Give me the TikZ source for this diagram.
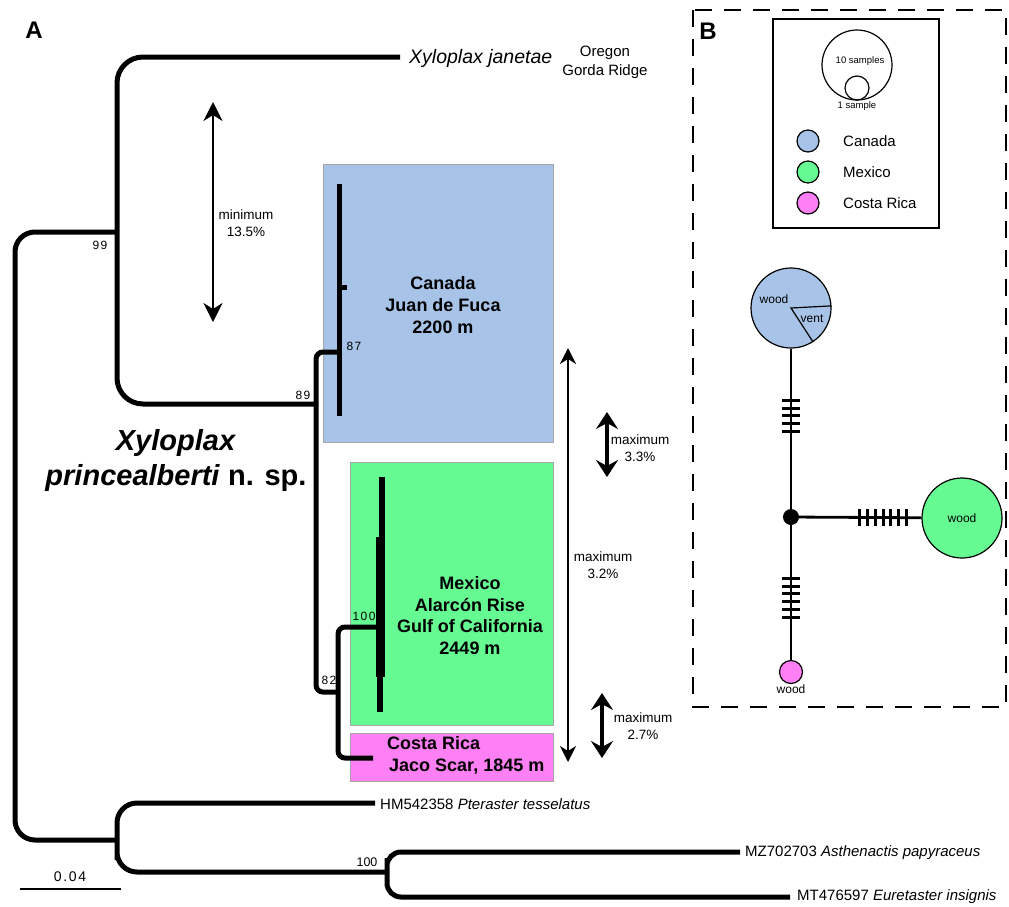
\documentclass[tikz,border=0pt]{standalone}
\usepackage{fontspec}
\setmainfont{Liberation Sans}
\newfontfamily\numfont[LetterSpace=12]{Liberation Sans}
\usetikzlibrary{arrows.meta,calc}
\definecolor{canada}{RGB}{167,196,232}
\definecolor{mexico}{RGB}{102,250,146}
\definecolor{costa}{RGB}{255,128,245}
\newcommand\myfs[2]{\fontsize{#1}{#2}\selectfont}
\begin{document}
\begin{tikzpicture}[x=1pt,y=-1pt,
  tree/.style={line width=5pt, rounded corners=#1},
  tree/.default=20pt,
  regionbox/.style={draw=black!35, line width=0.6pt},
  bigarrow/.style={line width=2pt, {Stealth[length=16pt,width=16pt,inset=5pt]}-{Stealth[length=16pt,width=16pt,inset=5pt]}},
  minarrow/.style={line width=2pt, {Stealth[length=19pt,width=19pt,inset=6pt]}-{Stealth[length=19pt,width=19pt,inset=6pt]}},
  smallarrow/.style={line width=3.5pt, {Stealth[length=17pt,width=22pt,inset=6pt]}-{Stealth[length=17pt,width=22pt,inset=6pt]}},
  dimlab/.style={inner sep=0pt, align=center, font=\myfs{13.5}{17}},
  supp/.style={inner sep=0pt, font=\numfont\myfs{12}{14}},
  placelab/.style={inner sep=0pt, font=\bfseries\myfs{18}{22}},
  hap/.style={circle, draw, line width=1.2pt, inner sep=0pt},
  net/.style={line width=2.8pt},
  tick/.style={line width=3pt},
  legc/.style={circle, draw, line width=1.2pt, inner sep=0pt, minimum size=22pt},
  legt/.style={anchor=west, inner sep=0pt, font=\myfs{15}{18}},
  taxon/.style={anchor=west, inner sep=0pt, font=\myfs{15}{18}}
]
\useasboundingbox (0,0) rectangle (1009,906);

% ---------- panel A: coloured regions ----------
\path[regionbox, fill=canada] (323,164) rectangle (553,442);
\path[regionbox, fill=mexico] (350,462) rectangle (553,725);
\path[regionbox, fill=costa]  (350,733) rectangle (553,781);

\node[placelab, align=center] (tCan) at (443,305) {Canada\\Juan de Fuca\\2200 m};
\node[placelab, align=center, font=\bfseries\myfs{18}{21.7}] (tMex) at (470,615.5) {Mexico\\Alarcón Rise\\Gulf of California\\2449 m};
\node[placelab, align=left, anchor=west] (tCR) at (387,755) {Costa Rica\\\hspace*{2pt}Jaco Scar, 1845 m};

% ---------- tree ----------
\coordinate (root) at (15,536);
\coordinate (n99) at (117,232);
\coordinate (tJan) at (400,57);
\coordinate (n89) at (316,404);
\coordinate (cCan) at (340,352);
\coordinate (n82) at (338,692);
\coordinate (cMex) at (378,627);
\coordinate (tCRc) at (373,758);
\coordinate (nOut) at (117,840);
\coordinate (tPte) at (375,803);
\coordinate (n100) at (387,872);
\coordinate (tAst) at (740,852);
\coordinate (tEur) at (790,897);

\draw[tree] (n99) -| (root) |- (nOut);
\draw[tree=26pt] (tJan) -| (n99) |- (n89);
\draw[tree=7pt] (cCan) -| (n89) |- (n82);
\draw[tree=7pt] (cMex) -| (n82) |- (tCRc);
\draw[tree] (tPte) -| (nOut) |- (n100);
\draw[tree=14pt] (tAst) -| (n100) |- (tEur);

% collapsed clades
\fill (337,184) rectangle (342,416);
\fill (342,284.5) rectangle (347,289.5);
\fill (379,477) rectangle (385,537);
\fill (376,537) rectangle (385,677);
\fill (377,677) rectangle (383,712);

% support values
\node[supp] (s99) at (100,245) {99};
\node[supp] (s89) at (303,395) {89};
\node[supp] (s87) at (354,346) {87};
\node[supp] (s100a) at (364,616) {100};
\node[supp] (s82) at (329,680) {82};
\node[inner sep=0pt, font=\myfs{12.5}{14}] (s100b) at (367,862) {100};

% taxon labels
\node[inner sep=0pt, anchor=west, font=\itshape\myfs{19.5}{22}] (lJan) at (409,58) {Xyloplax janetae};
\node[inner sep=0pt, align=center, font=\myfs{15}{19}] (lOre) at (605,62) {Oregon\\Gorda Ridge};
\node[taxon] (lPte) at (380,804) {HM542358 \textit{Pteraster tesselatus}};
\node[taxon] (lAst) at (745,853) {MZ702703 \textit{Asthenactis papyraceus}};
\node[taxon] (lEur) at (797,897) {MT476597 \textit{Euretaster insignis}};

\node[inner sep=0pt, align=center, font=\bfseries\myfs{29}{35}] (lSp) at (176,460) {\textit{Xyloplax}\\\textit{princealberti} n. sp.};

% scale bar
\coordinate (sb1) at (20,889);
\coordinate (sb2) at (121,889);
\draw[line width=1.2pt] (sb1) -- (sb2);
\node[inner sep=0pt, font=\numfont\myfs{14}{16}] (lsb) at (70,877) {0.04};

% panel letters
\node[inner sep=0pt, font=\bfseries\myfs{24}{26}] (pA) at (34,30) {A};
\node[inner sep=0pt, font=\bfseries\myfs{24}{26}] (pB) at (708,31) {B};

% distance arrows
\coordinate (m1) at (213,102); \coordinate (m2) at (213,322);
\draw[minarrow] (m1) -- (m2);
\node[dimlab] (lmin) at (246,223.5) {minimum\\13.5\%};

\coordinate (b1) at (568,348); \coordinate (b2) at (568,762);
\draw[bigarrow] (b1) -- (b2);
\node[dimlab] (l32) at (603,565) {maximum\\3.2\%};

\coordinate (a1) at (607,412); \coordinate (a2) at (607,477);
\draw[smallarrow] (a1) -- (a2);
\node[dimlab] (l33) at (640,448.5) {maximum\\3.3\%};

\coordinate (c1) at (602,693); \coordinate (c2) at (602,758);
\draw[smallarrow] (c1) -- (c2);
\node[dimlab] (l27) at (643,726.5) {maximum\\2.7\%};

% ---------- panel B ----------
\draw[line width=1.3pt, dash pattern=on 17pt off 12pt] (693,10) rectangle (1006,707);

\draw[line width=1.3pt] (773,19) rectangle (939,228);
\node[hap, minimum size=70pt] (big) at (857,65) {};
\node[hap, minimum size=24pt] (small) at (857,88) {};
\node[inner sep=0pt, font=\myfs{9.5}{11}] (l10) at (860,61) {10 samples};
\node[inner sep=0pt, font=\myfs{9.5}{11}] (l1) at (857,106) {1 sample};

\node[legc, fill=canada] (lgC) at (808,141) {};
\node[legc, fill=mexico] (lgM) at (808,172) {};
\node[legc, fill=costa]  (lgR) at (808,203) {};
\node[legt] (ltC) at (843,141) {Canada};
\node[legt] (ltM) at (843,172) {Mexico};
\node[legt] (ltR) at (843,203) {Costa Rica};

% haplotype network
\node[hap, fill=canada, minimum size=80pt] (hC) at (791,308) {};
\node[circle, fill=black, inner sep=0pt, minimum size=16pt] (hub) at (791,517) {};
\node[hap, fill=mexico, minimum size=80pt] (hM) at (962,518) {};
\node[hap, fill=costa, minimum size=23pt] (hR) at (791,672) {};

\draw[line width=1.2pt] (hC.3) -- (hC.center) -- (hC.-57);
\node[inner sep=0pt, font=\myfs{12}{14}] (wC) at (774,299) {wood};
\node[inner sep=0pt, font=\myfs{12}{14}] (vC) at (812,319) {vent};
\node[inner sep=0pt, font=\myfs{12}{14}] (wM) at (hM.center) {wood};
\node[inner sep=0pt, font=\myfs{12}{14}] (wR) at (791,689) {wood};

\draw[net] (hC) -- (hub);
\draw[net] (hub) -- (hM);
\draw[net] (hub) -- (hR);

\foreach \yy in {400,408,415.5,423,431} \draw[tick] (782,\yy) -- (800,\yy);
\foreach \yy in {578,586,593.5,601,609,617} \draw[tick] (782,\yy) -- (800,\yy);
\foreach \xx in {859,867,875,883,890,898,906} \draw[tick] (\xx,509) -- (\xx,526);
\end{tikzpicture}
\end{document}
